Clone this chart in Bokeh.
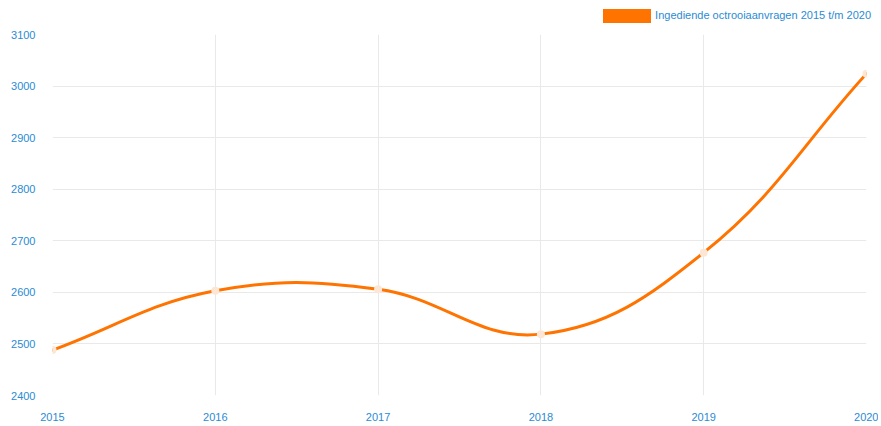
from bokeh.plotting import figure
from bokeh.models import Range1d, FixedTicker, ColumnDataSource, Div
from bokeh.layouts import column
from bokeh.embed import file_html
from bokeh.resources import INLINE

years = [2015, 2016, 2017, 2018, 2019, 2020]
values = [2488, 2603, 2606, 2519, 2677, 3024]
series_name = "Ingediende octrooiaanvragen 2015 t/m 2020"
y_ticks = [2400, 2500, 2600, 2700, 2800, 2900, 3000, 3100]

LINE = "#ff7300"
POINT = "#fde7d4"
TEXT = "#2b8bd3"
GRID = "#e9e9e9"
FONT = "Liberation Sans"

W = 878
DIV_H = 26
H = 400
BL, BR, BT, BB = 52, 12, 8, 31
FW, FH = W - BL - BR, H - BT - BB

p = figure(width=W, height=H, output_backend="svg", toolbar_location=None,
           x_range=Range1d(2015, 2020), y_range=Range1d(2400, 3100),
           min_border_left=BL, min_border_right=BR, min_border_top=BT, min_border_bottom=BB)
p.outline_line_color = None
p.background_fill_color = "white"
p.border_fill_color = "white"

for ax in (p.xaxis[0], p.yaxis[0]):
    ax.axis_line_color = None
    ax.major_tick_line_color = None
    ax.minor_tick_line_color = None
    ax.major_tick_in = 0
    ax.major_tick_out = 0
    ax.major_label_text_color = TEXT
    ax.major_label_text_font = FONT
    ax.major_label_text_font_size = "11px"
p.xaxis[0].ticker = FixedTicker(ticks=years)
p.yaxis[0].ticker = FixedTicker(ticks=y_ticks)
p.xaxis[0].major_label_standoff = 17
p.yaxis[0].major_label_standoff = 17
p.xgrid[0].ticker = FixedTicker(ticks=years)
p.ygrid[0].ticker = FixedTicker(ticks=y_ticks)
p.xgrid[0].grid_line_color = GRID
p.ygrid[0].grid_line_color = GRID

# Chart.js style spline (tension 0.4), distances in screen space
sx = FW / (2020 - 2015)
sy = FH / (3100 - 2400)
t = 0.4
n = len(years)
cp_prev, cp_next = [], []
for i in range(n):
    cx, cy = years[i], values[i]
    px, py = (years[i - 1], values[i - 1]) if i > 0 else (cx, cy)
    nx, ny = (years[i + 1], values[i + 1]) if i < n - 1 else (cx, cy)
    d01 = (((cx - px) * sx) ** 2 + ((cy - py) * sy) ** 2) ** 0.5
    d12 = (((nx - cx) * sx) ** 2 + ((ny - cy) * sy) ** 2) ** 0.5
    tot = d01 + d12
    s01 = d01 / tot if tot else 0
    s12 = d12 / tot if tot else 0
    fa, fb = t * s01, t * s12
    cp_prev.append((cx - fa * (nx - px), cy - fa * (ny - py)))
    cp_next.append((cx + fb * (nx - px), cy + fb * (ny - py)))

bez = ColumnDataSource(dict(
    x0=years[:-1], y0=values[:-1], x1=years[1:], y1=values[1:],
    cx0=[c[0] for c in cp_next[:-1]], cy0=[c[1] for c in cp_next[:-1]],
    cx1=[c[0] for c in cp_prev[1:]], cy1=[c[1] for c in cp_prev[1:]],
))
p.bezier(x0="x0", y0="y0", x1="x1", y1="y1", cx0="cx0", cy0="cy0", cx1="cx1", cy1="cy1",
         source=bez, line_color=LINE, line_width=3, line_cap="round")
p.scatter(years, values, size=8, fill_color=POINT, line_color=None)

legend_html = (
    f'<div style="display:flex;justify-content:flex-end;align-items:center;'
    f'width:{W - 7}px;height:14px;margin-top:9px;'
    f"font-family:'{FONT}';font-size:11px;color:{TEXT};white-space:nowrap;\">"
    f'<span style="display:inline-block;width:48px;height:14px;background:{LINE};'
    f'margin-right:4px;"></span><span>{series_name}</span></div>'
)
div = Div(text=legend_html, width=W, height=DIV_H, margin=(0, 0, 0, 0))

layout = column(div, p, spacing=0)
open("out.html", "w").write(file_html(layout, INLINE))
